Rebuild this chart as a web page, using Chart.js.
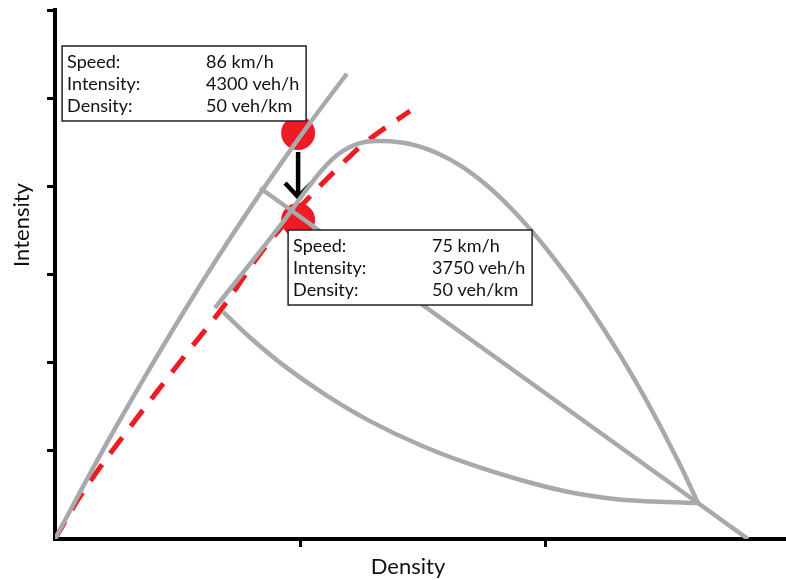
<!DOCTYPE html>
<html>
<head>
<meta charset="utf-8">
<script src="https://cdn.jsdelivr.net/npm/chart.js@4"></script>
<style>
  html, body { margin: 0; padding: 0; background: #fff; }
  #wrap { width: 786px; height: 580px; }
</style>
</head>
<body>
<div id="wrap"><canvas id="chart"></canvas></div>
<script>
// Density on x, intensity on y, both in axis tick units
const freeFlowX = [0, 0.183, 0.359, 0.522, 0.660, 0.795, 0.930, 1.052, 1.190];
const freeFlowY = [0, 0.946, 1.804, 2.563, 3.178, 3.750, 4.294, 4.767, 5.277];

const reducedX = [0, 0.114, 0.306, 0.538, 0.685, 0.848, 0.999, 1.174, 1.272, 1.447];
const reducedY = [0, 0.533, 1.270, 2.110, 2.631, 3.278, 3.765, 4.264, 4.514, 4.854];

// inner branch rising to the top of the loop, then the big arc down
const loopX = [0.652, 0.929, 1.052, 1.150, 1.243, 1.337, 1.447, 1.557, 1.659, 1.761, 1.855,
               1.949, 2.038, 2.128, 2.222, 2.303, 2.385, 2.454, 2.515, 2.568, 2.621];
const loopY = [2.620, 3.595, 4.060, 4.355, 4.491, 4.514, 4.480, 4.378, 4.224, 4.010, 3.763,
               3.475, 3.169, 2.832, 2.445, 2.088, 1.700, 1.349, 1.022, 0.727, 0.408];

const lowerX = [0.685, 0.795, 0.929, 1.105, 1.284, 1.488, 1.692, 1.896, 2.099, 2.283, 2.438, 2.621];
const lowerY = [2.575, 2.285, 1.975, 1.631, 1.337, 1.066, 0.848, 0.671, 0.530, 0.454, 0.425, 0.408];

const congestedX = [0.836, 2.621, 2.825];
const congestedY = [3.981, 0.408, 0];

// the two states
const stateX = [0.991, 0.991];
const stateY = [4.605, 3.618];
const arrowX = [0.991, 0.991];
const arrowY = [4.389, 3.879];
const headX = [0.938, 0.991, 1.046];
const headY = [4.038, 3.879, 4.038];

const rowLabels = ['Speed:', 'Intensity:', 'Density:'];
const stateAValues = ['86 km/h', '4300 veh/h', '50 veh/km'];
const stateBValues = ['75 km/h', '3750 veh/h', '50 veh/km'];

const xTitle = 'Density';
const yTitle = 'Intensity';

const GREY = '#a7a9ac';
const RED = '#ed1c24';

function pts(xs, ys) {
    return xs.map((x, i) => ({ x: x, y: ys[i] }));
}

function greyLine(xs, ys) {
    return {
        data: pts(xs, ys),
        showLine: true,
        borderColor: GREY,
        borderWidth: 4.5,
        pointRadius: 0,
        tension: 0.4
    };
}

function drawBox(ctx, left, top, values) {
    const w = 244, h = 75;
    ctx.save();
    ctx.fillStyle = '#fff';
    ctx.fillRect(left, top, w, h);
    ctx.strokeStyle = '#222';
    ctx.lineWidth = 1.5;
    ctx.strokeRect(left, top, w, h);
    ctx.fillStyle = '#111';
    ctx.font = '18px Lato, sans-serif';
    ctx.textBaseline = 'middle';
    ctx.textAlign = 'left';
    rowLabels.forEach((lab, i) => {
        const y = top + 16 + i * 22;
        ctx.fillText(lab, left + 5, y);
        ctx.fillText(values[i], left + 144, y);
    });
    ctx.restore();
}

const overlay = {
    id: 'overlay',
    afterDraw(chart) {
        const ctx = chart.ctx;
        const xs = chart.scales.x, ys = chart.scales.y;
        const ax = xs.getPixelForValue(stateX[0]), ay = ys.getPixelForValue(stateY[0]);
        const bx = xs.getPixelForValue(stateX[1]), by = ys.getPixelForValue(stateY[1]);
        drawBox(ctx, ax - 236, ay - 87, stateAValues);
        drawBox(ctx, bx - 10, by + 10, stateBValues);

        // axis titles
        const area = chart.chartArea;
        ctx.save();
        ctx.fillStyle = '#111';
        ctx.font = '22px Lato, sans-serif';
        ctx.textAlign = 'center';
        ctx.textBaseline = 'middle';
        ctx.fillText(xTitle, area.left + 353, area.bottom + 28);
        ctx.translate(area.left - 33, area.top + 215);
        ctx.rotate(-Math.PI / 2);
        ctx.fillText(yTitle, 0, 0);
        ctx.restore();
    }
};

const dropZero = (scale) => {
    scale.ticks = scale.ticks.filter(t => t.value !== 0);
};

new Chart(document.getElementById('chart'), {
    type: 'scatter',
    data: {
        datasets: [
            greyLine(freeFlowX, freeFlowY),
            greyLine(loopX, loopY),
            greyLine(lowerX, lowerY),
            Object.assign(greyLine(congestedX, congestedY), { tension: 0 }),
            {
                data: pts(reducedX, reducedY),
                showLine: true,
                borderColor: RED,
                borderWidth: 5,
                borderDash: [20, 14],
                pointRadius: 0,
                tension: 0.4
            },
            {
                data: pts(arrowX, arrowY),
                showLine: true,
                borderColor: '#000',
                borderWidth: 4.5,
                pointRadius: 0
            },
            {
                data: pts(headX, headY),
                showLine: true,
                borderColor: '#000',
                borderWidth: 4.5,
                borderJoinStyle: 'miter',
                pointRadius: 0
            },
            {
                data: pts(stateX, stateY),
                showLine: false,
                pointRadius: 17,
                pointBackgroundColor: RED,
                pointBorderWidth: 0
            }
        ]
    },
    options: {
        responsive: true,
        maintainAspectRatio: false,
        animation: false,
        layout: { autoPadding: false, padding: { left: 47, top: 10, right: 0, bottom: 33 } },
        plugins: {
            legend: { display: false },
            tooltip: { enabled: false }
        },
        scales: {
            x: {
                type: 'linear',
                min: 0,
                max: 2.98,
                afterBuildTicks: dropZero,
                ticks: { stepSize: 1, display: false, includeBounds: false },
                grid: { drawOnChartArea: false, color: '#000', lineWidth: 3, tickLength: 8 },
                border: { display: true, color: '#000', width: 4 }
            },
            y: {
                type: 'linear',
                min: 0,
                max: 6,
                afterBuildTicks: dropZero,
                ticks: { stepSize: 1, display: false, includeBounds: false },
                grid: { drawOnChartArea: false, color: '#000', lineWidth: 3, tickLength: 8 },
                border: { display: true, color: '#000', width: 4 }
            }
        }
    },
    plugins: [overlay]
});
</script>
</body>
</html>
